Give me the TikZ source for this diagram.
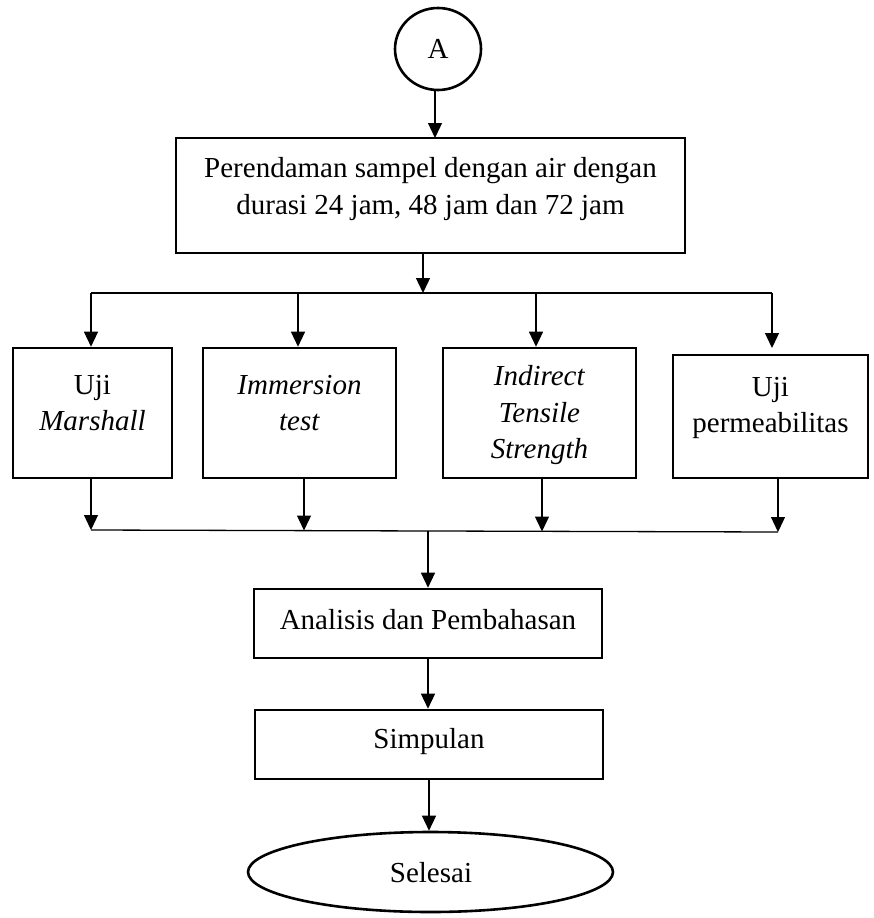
\documentclass[tikz,border=0pt]{standalone}
\usepackage{fontspec}
\setmainfont{Liberation Serif}
\usetikzlibrary{arrows.meta,shapes.geometric}
\begin{document}
\begin{tikzpicture}[x=1pt,y=-1pt,
  box/.style={draw,line width=2.6pt,rectangle,inner sep=0pt},
  txt/.style={align=center,inner sep=0pt,font=\fontsize{29}{36.5}\selectfont},
  arr/.style={line width=1.3pt,-{Triangle[length=15pt,width=14pt]}},
  ln/.style={line width=1.3pt}]
\useasboundingbox (0,0) rectangle (873,918);
% start circle
\node[draw,line width=2.6pt,ellipse,minimum width=86pt,minimum height=82pt,inner sep=0pt,
  font=\fontsize{29}{36.5}\selectfont] (A) at (438,49) {A};
% top box
\node[box,minimum width=509pt,minimum height=115pt] (top) at (430.5,195.5) {};
\node[txt] (ttop) at (430.5,189) {Perendaman sampel dengan air dengan\\durasi 24 jam, 48 jam dan 72 jam};
% four boxes
\node[box,minimum width=159pt,minimum height=130pt] (b1) at (92.5,413) {};
\node[box,minimum width=193pt,minimum height=130pt] (b2) at (299.5,413) {};
\node[box,minimum width=193pt,minimum height=130pt] (b3) at (539.5,413) {};
\node[box,minimum width=195pt,minimum height=123pt] (b4) at (770.5,416.5) {};
\node[txt] (t1) at (92.5,403) {Uji\\\textit{Marshall}};
\node[txt] (t2) at (299.5,403) {\textit{Immersion}\\\textit{test}};
\node[txt] (t3) at (539.5,415.5) {\textit{Indirect}\\\textit{Tensile}\\\textit{Strength}};
\node[txt] (t4) at (770.5,408) {Uji\\permeabilitas};
% lower boxes
\node[box,minimum width=348pt,minimum height=69pt] (an) at (428,623.5) {};
\node[txt] (tan) at (428,620) {Analisis dan Pembahasan};
\node[box,minimum width=348pt,minimum height=69pt] (si) at (429,744.5) {};
\node[txt] (tsi) at (429,742) {Simpulan};
\node[draw,line width=2.6pt,ellipse,minimum width=365pt,minimum height=80pt,inner sep=0pt] (se) at (430.5,872) {};
\node[txt] (tse) at (431,873) {Selesai};
% coordinates
\coordinate (split) at (423,293);
\coordinate (bl) at (91,293);
\coordinate (br) at (772,293);
\coordinate (d2) at (298,293);
\coordinate (d3) at (536,293);
\coordinate (e4) at (772,348);
\coordinate (ml) at (91,530);
\coordinate (m2) at (304,530.5);
\coordinate (m3) at (542,531.5);
\coordinate (mr) at (778,532);
\coordinate (mj) at (428,531);
% connectors
\draw[arr] (A.south -| 435,0) -- (435,138);
\draw[arr] (split |- top.south) -- (split);
\draw[ln] (bl) -- (br);
\draw[arr] (bl) -- (bl |- b1.north);
\draw[arr] (d2) -- (d2 |- b2.north);
\draw[arr] (d3) -- (d3 |- b3.north);
\draw[arr] (br) -- (e4);
\draw[arr] (ml |- b1.south) -- (ml);
\draw[arr] (m2 |- b2.south) -- (m2);
\draw[arr] (m3 |- b3.south) -- (m3);
\draw[arr] (mr |- b4.south) -- (mr);
\draw[ln] (ml) -- (mr);
\draw[arr] (mj) -- (mj |- an.north);
\draw[arr] (an.south) -- (an.south |- si.north);
\draw[arr] (si.south) -- (si.south |- se.north);
\end{tikzpicture}
\end{document}
